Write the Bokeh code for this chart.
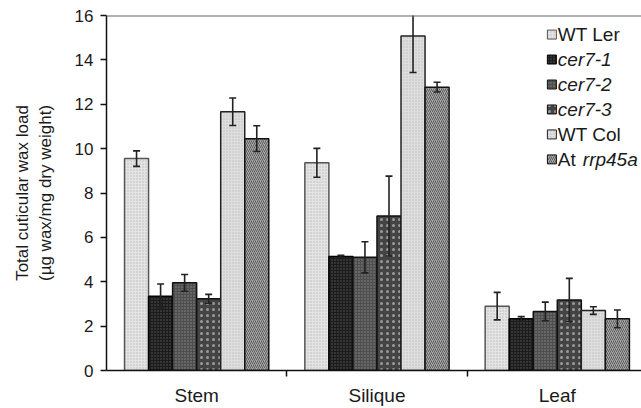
from bokeh.plotting import figure
from bokeh.models import Range1d, FixedTicker, Span
from bokeh.core.properties import value
from bokeh.embed import file_html
from bokeh.resources import INLINE

# ---- data ----
categories = ["Stem", "Silique", "Leaf"]
series_names = ["WT Ler", "cer7-1", "cer7-2", "cer7-3", "WT Col", "At rrp45a"]

wt_ler = [9.55, 9.36, 2.90]
cer7_1 = [3.35, 5.14, 2.33]
cer7_2 = [3.95, 5.10, 2.66]
cer7_3 = [3.23, 6.96, 3.18]
wt_col = [11.66, 15.08, 2.70]
rrp45a = [10.45, 12.77, 2.33]

wt_ler_err = [0.35, 0.65, 0.62]
cer7_1_err = [0.55, 0.05, 0.10]
cer7_2_err = [0.38, 0.70, 0.42]
cer7_3_err = [0.20, 1.80, 0.97]
wt_col_err = [0.62, 1.65, 0.17]
rrp45a_err = [0.58, 0.22, 0.40]

y_ticks = [0, 2, 4, 6, 8, 10, 12, 14, 16]

values = [wt_ler, cer7_1, cer7_2, cer7_3, wt_col, rrp45a]
errors = [wt_ler_err, cer7_1_err, cer7_2_err, cer7_3_err, wt_col_err, rrp45a_err]

# ---- styles ----
styles = [
    dict(fill_color="#e4e4e4", line_color="#555555", hatch_pattern="dot", hatch_color="#b8b8b8", hatch_scale=3, hatch_weight=1),
    dict(fill_color="#1c1c1c", line_color="#000000", hatch_pattern="dot", hatch_color="#5a5a5a", hatch_scale=3, hatch_weight=1),
    dict(fill_color="#4e4e4e", line_color="#111111", hatch_pattern="dot", hatch_color="#8a8a8a", hatch_scale=3, hatch_weight=1),
    dict(fill_color="#444444", line_color="#111111", hatch_pattern="dot", hatch_color="#9a9a9a", hatch_scale=6, hatch_weight=1.5),
    dict(fill_color="#dedede", line_color="#222222", hatch_pattern="dot", hatch_color="#bdbdbd", hatch_scale=3, hatch_weight=1),
    dict(fill_color="#a8a8a8", line_color="#111111", hatch_pattern="/", hatch_color="#5e5e5e", hatch_scale=4, hatch_weight=1),
]

FONT = "Liberation Sans"
TXT = "#1a1a1a"

p = figure(width=641, height=408, output_backend="svg", toolbar_location=None,
           x_range=Range1d(0, 2.967), y_range=Range1d(0, 16),
           min_border_left=106, min_border_right=0, min_border_top=15, min_border_bottom=36)
p.outline_line_color = None
p.grid.visible = False
p.background_fill_color = "white"
p.border_fill_color = "white"

n = len(series_names)
bw = 0.8 / n
for i in range(n):
    xs = [g + 0.1 + (i + 0.5) * bw for g in range(len(categories))]
    p.vbar(x=xs, top=values[i], bottom=0, width=bw, line_width=1.5, **styles[i])
    up = [v + e for v, e in zip(values[i], errors[i])]
    lo = [v - e for v, e in zip(values[i], errors[i])]
    p.segment(x0=xs, y0=lo, x1=xs, y1=up, line_color="#222222", line_width=1.6)
    p.scatter(x=xs, y=up, marker="dash", size=7, line_color="#222222", line_width=1.6)
    p.scatter(x=xs, y=lo, marker="dash", size=7, line_color="#222222", line_width=1.6)

p.add_layout(Span(location=16, dimension="width", line_color="#666666", line_width=2))

# ---- axes ----
p.yaxis.ticker = FixedTicker(ticks=y_ticks)
p.yaxis.minor_tick_line_color = None
p.yaxis.major_tick_out = 6
p.yaxis.major_tick_in = 0
p.yaxis.major_tick_line_width = 1.5
p.yaxis.axis_line_width = 1.5
p.yaxis.axis_line_color = "#111111"
p.yaxis.major_tick_line_color = "#111111"
p.yaxis.major_label_standoff = 7
p.yaxis.major_label_text_font = FONT
p.yaxis.major_label_text_font_size = "17px"
p.yaxis.major_label_text_color = TXT
p.yaxis.axis_label = "Total cuticular wax load\n(\u00b5g wax/mg dry weight)"
p.yaxis.axis_label_text_font = FONT
p.yaxis.axis_label_text_font_size = "17px"
p.yaxis.axis_label_text_font_style = "normal"
p.yaxis.axis_label_text_color = TXT
p.yaxis.axis_label_standoff = 17

p.xaxis.ticker = FixedTicker(ticks=[0.5, 1.5, 2.5], minor_ticks=[1, 2])
p.xaxis.major_label_overrides = {0.5: categories[0], 1.5: categories[1], 2.5: categories[2]}
p.xaxis.major_tick_line_color = None
p.xaxis.major_tick_out = 0
p.xaxis.major_tick_in = 0
p.xaxis.minor_tick_out = 6
p.xaxis.minor_tick_in = 0
p.xaxis.minor_tick_line_color = "#111111"
p.xaxis.minor_tick_line_width = 1.5
p.xaxis.axis_line_width = 1.5
p.xaxis.axis_line_color = "#111111"
p.xaxis.major_label_standoff = 8
p.xaxis.major_label_text_font = FONT
p.xaxis.major_label_text_font_size = "19px"
p.xaxis.major_label_text_color = TXT

# ---- legend (manual, to allow italic names) ----
leg_x = 2.47
leg_y0 = 15.14
leg_dy = 1.125
italic_parts = [None, "cer7-1", "cer7-2", "cer7-3", None, "rrp45a"]
plain_parts = ["WT Ler", "", "", "", "WT Col", "At"]
for i in range(n):
    yy = leg_y0 - i * leg_dy
    p.rect(x=[leg_x], y=[yy], width=9, height=9, width_units="screen", height_units="screen",
           line_width=1, **styles[i])
    tx = leg_x + 0.033
    if plain_parts[i]:
        p.text(x=[tx], y=[yy], text=[plain_parts[i]], text_font=value(FONT), text_font_size="19px",
               text_color=TXT, text_baseline="middle", text_align="left")
    if italic_parts[i]:
        off = 25 if plain_parts[i] else 0
        p.text(x=[tx], y=[yy], text=[italic_parts[i]], x_offset=off, text_font=value(FONT),
               text_font_size="19px", text_font_style="italic",
               text_color=TXT, text_baseline="middle", text_align="left")

open("out.html", "w").write(file_html(p, INLINE))
